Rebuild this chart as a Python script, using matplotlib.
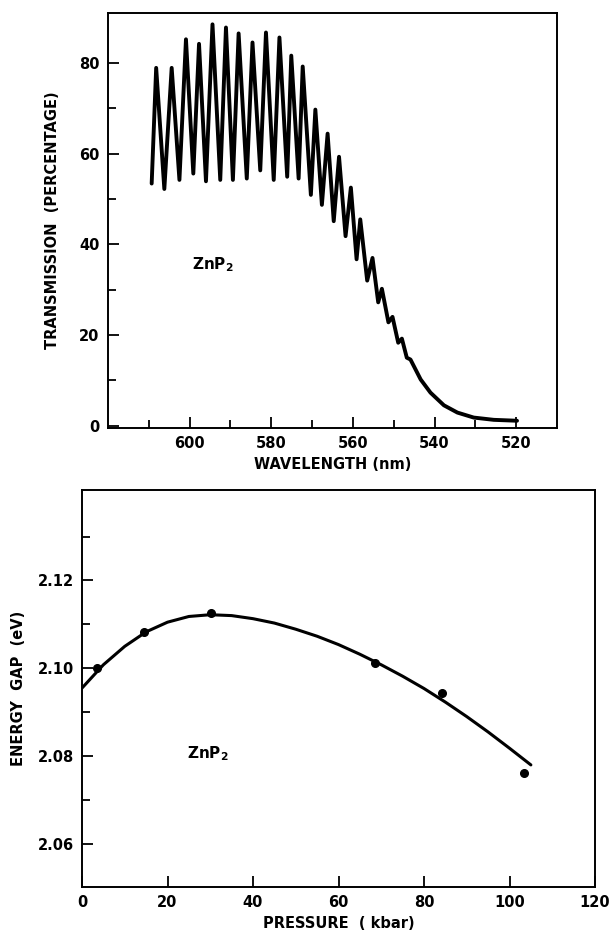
import matplotlib
matplotlib.use("Agg")
import matplotlib.pyplot as plt
from matplotlib.ticker import FixedLocator

# ---------------- data: transmission spectrum (top panel) ----------------
wavelength_nm = [609.3, 608.2, 606.2, 604.4, 602.5, 600.9, 599.1, 597.7, 596.0, 594.4,
                 592.5, 591.1, 589.4, 588.0, 586.0, 584.6, 582.7, 581.3, 579.4, 578.0,
                 576.1, 575.1, 573.3, 572.3, 570.3, 569.2, 567.6, 566.2, 564.7, 563.4,
                 561.8, 560.5, 559.1, 558.2, 556.5, 555.2, 553.8, 552.9, 551.3, 550.3,
                 548.9, 548.0, 546.8, 545.9, 543.4, 541.0, 537.7, 534.4, 530.4, 525.5,
                 519.8]
transmission_pct = [53.4, 78.9, 52.2, 78.9, 54.2, 85.2, 55.6, 84.2, 53.9, 88.5,
                    54.2, 87.8, 54.2, 86.5, 54.5, 84.5, 56.3, 86.7, 54.2, 85.6,
                    54.9, 81.6, 54.5, 79.2, 50.9, 69.7, 48.7, 64.4, 45.1, 59.3,
                    41.8, 52.5, 36.7, 45.5, 32.0, 37.0, 27.2, 30.2, 22.8, 24.0,
                    18.3, 19.2, 15.0, 14.6, 10.2, 7.3, 4.5, 2.9, 1.8, 1.3,
                    1.1]
top_xticks = [600, 580, 560, 540, 520]
top_xminor = [610, 590, 570, 550, 530]
top_yticks = [0, 20, 40, 60, 80]
top_yminor = [10, 30, 50, 70]

# ---------------- data: energy gap vs pressure (bottom panel) ----------------
pressure_pts = [3.6, 14.5, 30.2, 68.5, 84.1, 103.4]
gap_pts = [2.1000, 2.1082, 2.1125, 2.1012, 2.0944, 2.0762]
pressure_fit = [0, 5, 10, 15, 20, 25, 30, 35, 40, 45, 50, 55, 60, 65, 70, 75,
                80, 85, 90, 95, 100, 105]
gap_fit = [2.0955, 2.1008, 2.1050, 2.1083, 2.1105, 2.1118, 2.1122, 2.1120,
           2.1113, 2.1103, 2.1089, 2.1073, 2.1054, 2.1032, 2.1008, 2.0982,
           2.0954, 2.0923, 2.0890, 2.0855, 2.0818, 2.0780]
bot_xticks = [0, 20, 40, 60, 80, 100, 120]
bot_yticks = [2.06, 2.08, 2.10, 2.12]
bot_yminor = [2.07, 2.09, 2.11, 2.13]

plt.rcParams['font.family'] = ['DejaVu Sans']
plt.rcParams['font.weight'] = 'bold'

W, H = 614, 930
fig = plt.figure(figsize=(W / 100, H / 100), dpi=100)
fig.patch.set_facecolor('white')


def frac(left, top, right, bottom):
    return [left / W, 1 - bottom / H, (right - left) / W, (bottom - top) / H]


def style(ax):
    for s in ax.spines.values():
        s.set_linewidth(1.4)
        s.set_color('black')
    ax.tick_params(which='both', direction='in', top=False, right=False,
                   width=1.3, colors='black', labelsize=10.5)
    ax.tick_params(which='major', length=8)
    ax.tick_params(which='minor', length=5.5)
    ax.tick_params(axis='y', which='both', pad=6)
    ax.tick_params(axis='x', which='both', pad=6)


# ---------------- top panel ----------------
ax1 = fig.add_axes(frac(108, 13, 557, 428))
ax1.plot(wavelength_nm, transmission_pct, color='black', lw=2.8,
         solid_joinstyle='round', solid_capstyle='round')
ax1.set_xlim(620, 510)
ax1.set_ylim(-0.5, 91)
ax1.xaxis.set_major_locator(FixedLocator(top_xticks))
ax1.xaxis.set_minor_locator(FixedLocator(top_xminor))
ax1.yaxis.set_major_locator(FixedLocator(top_yticks))
ax1.yaxis.set_minor_locator(FixedLocator(top_yminor))
style(ax1)
ax1.set_xlabel('WAVELENGTH (nm)', fontsize=10.5, fontweight='bold', labelpad=4)
ax1.set_ylabel('TRANSMISSION  (PERCENTAGE)', fontsize=10.5, fontweight='bold',
               labelpad=14)
ax1.text(594.2, 35.5, 'ZnP$_2$', fontsize=11, fontweight='bold',
         ha='center', va='center')

# ---------------- bottom panel ----------------
ax2 = fig.add_axes(frac(82, 490, 595, 887))
ax2.plot(pressure_fit, gap_fit, color='black', lw=2.2,
         solid_joinstyle='round', solid_capstyle='round')
ax2.plot(pressure_pts, gap_pts, 'o', color='black', ms=5.5)
ax2.set_xlim(0, 120)
ax2.set_ylim(2.0502, 2.1406)
ax2.xaxis.set_major_locator(FixedLocator(bot_xticks))
ax2.yaxis.set_major_locator(FixedLocator(bot_yticks))
ax2.yaxis.set_minor_locator(FixedLocator(bot_yminor))
ax2.set_yticklabels(['%.2f' % v for v in bot_yticks])
style(ax2)
ax2.set_xlabel('PRESSURE  ( kbar)', fontsize=10.5, fontweight='bold', labelpad=4)
ax2.set_ylabel('ENERGY  GAP  (eV)', fontsize=10.5, fontweight='bold', labelpad=8)
ax2.text(29.5, 2.0805, 'ZnP$_2$', fontsize=11, fontweight='bold',
         ha='center', va='center')

fig.savefig('out.png', dpi=100, facecolor='white')
